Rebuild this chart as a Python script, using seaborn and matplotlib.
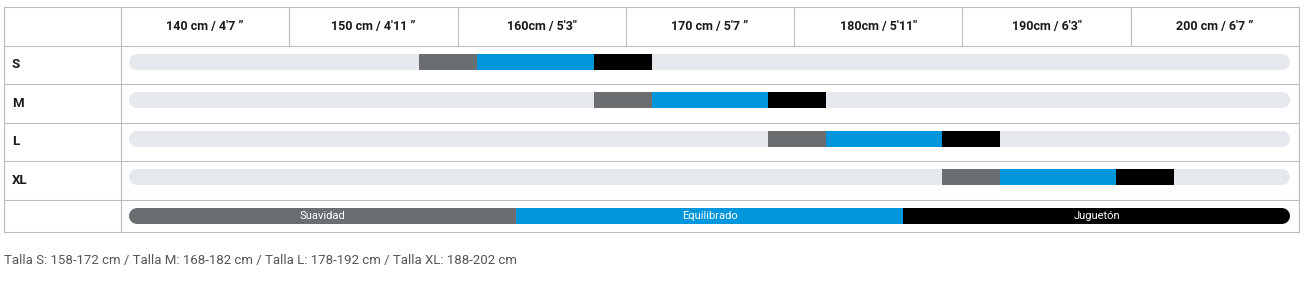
import numpy as np
import pandas as pd
import matplotlib
matplotlib.use("Agg")
import matplotlib.pyplot as plt
import seaborn as sns

# ---------------- data ----------------
sizes = ["S", "M", "L", "XL"]
seg_start = [5, 8, 11, 14]          # start of the recommended range on the 0-20 track
suavidad_len = [1, 1, 1, 1]
equilibrado_len = [2, 2, 2, 2]
jugueton_len = [1, 1, 1, 1]
track_min, track_max = 0, 20
header_labels = ["140 cm / 4'7 \u201d", "150 cm / 4'11 \u201d", "160cm / 5'3\"",
                 "170 cm / 5'7 \u201d", "180cm / 5'11\"", "190cm / 6'3\"", "200 cm / 6'7 \u201d"]
legend_labels = ["Suavidad", "Equilibrado", "Juguet\u00f3n"]
legend_share = [1, 1, 1]
footnote = ("Talla S: 158-172 cm / Talla M: 168-182 cm / Talla L: 178-192 cm / "
            "Talla XL: 188-202 cm")

# ---------------- style ----------------
sns.set_theme(style="white")
plt.rcParams["font.family"] = ["Roboto", "DejaVu Sans"]
C_GREY = "#6b6e71"
C_BLUE = "#0096db"
C_BLACK = "#000000"
C_TRACK = "#e5e8ec"
C_LINE = "#bdbdbd"
C_TEXT = "#1a1a1a"
seg_colors = [C_GREY, C_BLUE, C_BLACK]

W, H, DPI = 1310, 285, 100
fig = plt.figure(figsize=(W / DPI, H / DPI), dpi=DPI)

# layout (pixels)
T_L, T_R, T_T = 4, 1299, 7
COL_R = 121
ROW_H = 38.5
LEG_H = 32.5
T_B = T_T + ROW_H * 5 + LEG_H
TRACK_L, TRACK_R = 129, 1290.5

# background axes in pixel coordinates for the table frame
bg = fig.add_axes([0, 0, 1, 1])
bg.set_xlim(0, W)
bg.set_ylim(H, 0)
bg.set_axis_off()

# main axes covering the right part of the table
px_per_unit = (TRACK_R - TRACK_L) / (track_max - track_min)
ax = fig.add_axes([COL_R / W, (H - T_B) / H, (T_R - COL_R) / W, (T_B - T_T) / H])
ax.patch.set_alpha(0)

BAR_H = 16 / ROW_H
OFF = -2.75 / ROW_H

# tracks
lw_pt = 16 * 72 / DPI
r_units = 8 / px_per_unit
for i, s in enumerate(sizes):
    ax.plot([track_min + r_units, track_max - r_units], [i + OFF, i + OFF],
            color=C_TRACK, lw=lw_pt, solid_capstyle="round", zorder=1)

# segments via seaborn
starts = np.array(seg_start, dtype=float)
seg_lens = [np.array(suavidad_len, float), np.array(equilibrado_len, float),
            np.array(jugueton_len, float)]
left = starts.copy()
for lens, col in zip(seg_lens, seg_colors):
    df = pd.DataFrame({"size": sizes, "len": lens})
    n_before = len(ax.patches)
    sns.barplot(data=df, x="len", y="size", order=sizes, orient="h", color=col,
                saturation=1, width=BAR_H, linewidth=0, ax=ax, zorder=3)
    new = ax.patches[n_before:]
    for p, l in zip(new, left):
        p.set_x(l)
        p.set_y(p.get_y() + OFF)
    left = left + lens

# legend bar
leg_y = 3.5 + (216.3 - (T_T + ROW_H * 5)) / ROW_H
share = np.array(legend_share, float)
edges = track_min + np.concatenate([[0], np.cumsum(share)]) / share.sum() * (track_max - track_min)
ax.plot([edges[2], edges[3] - r_units], [leg_y, leg_y], color=C_BLACK, lw=lw_pt,
        solid_capstyle="round", zorder=2)
ax.plot([edges[0] + r_units, edges[1]], [leg_y, leg_y], color=C_GREY, lw=lw_pt,
        solid_capstyle="round", zorder=2)
ax.plot([edges[1], edges[2]], [leg_y, leg_y], color=C_BLUE, lw=lw_pt,
        solid_capstyle="butt", zorder=3)
for k, lab in enumerate(legend_labels):
    ax.text((edges[k] + edges[k + 1]) / 2, leg_y + 0.005, lab, color="white", fontsize=8,
            ha="center", va="center", zorder=4)

ax.set_xlim(track_min - (TRACK_L - COL_R) / px_per_unit,
            track_max + (T_R - TRACK_R) / px_per_unit)
ax.set_ylim(3.5 + LEG_H / ROW_H, -1.5)
ax.set_axis_off()

# ---------------- table frame ----------------
lw_line = 0.8
row_edges = [T_T + ROW_H * k for k in range(6)] + [T_B]
for y in row_edges:
    bg.plot([T_L, T_R], [y, y], color=C_LINE, lw=lw_line)
bg.plot([T_L, T_L], [T_T, T_B], color=C_LINE, lw=lw_line)
bg.plot([T_R, T_R], [T_T, T_B], color=C_LINE, lw=lw_line)
bg.plot([COL_R, COL_R], [T_T, T_B], color=C_LINE, lw=lw_line)
col_w = (T_R - COL_R) / len(header_labels)
for k in range(1, len(header_labels)):
    x = COL_R + k * col_w
    bg.plot([x, x], [T_T, T_T + ROW_H], color=C_LINE, lw=lw_line)
for k, lab in enumerate(header_labels):
    bg.text(COL_R + (k + 0.5) * col_w, T_T + ROW_H / 2, lab, ha="center", va="center",
            fontsize=9, fontweight="bold", color=C_TEXT)
for i, s in enumerate(sizes):
    bg.text(12, T_T + ROW_H * (i + 1.5), s, ha="left", va="center", fontsize=9.5,
            fontweight="bold", color=C_TEXT)

bg.text(T_L, 260.5, footnote, ha="left", va="center", fontsize=9.5, color="#555555")

fig.savefig("out.png", dpi=DPI)
